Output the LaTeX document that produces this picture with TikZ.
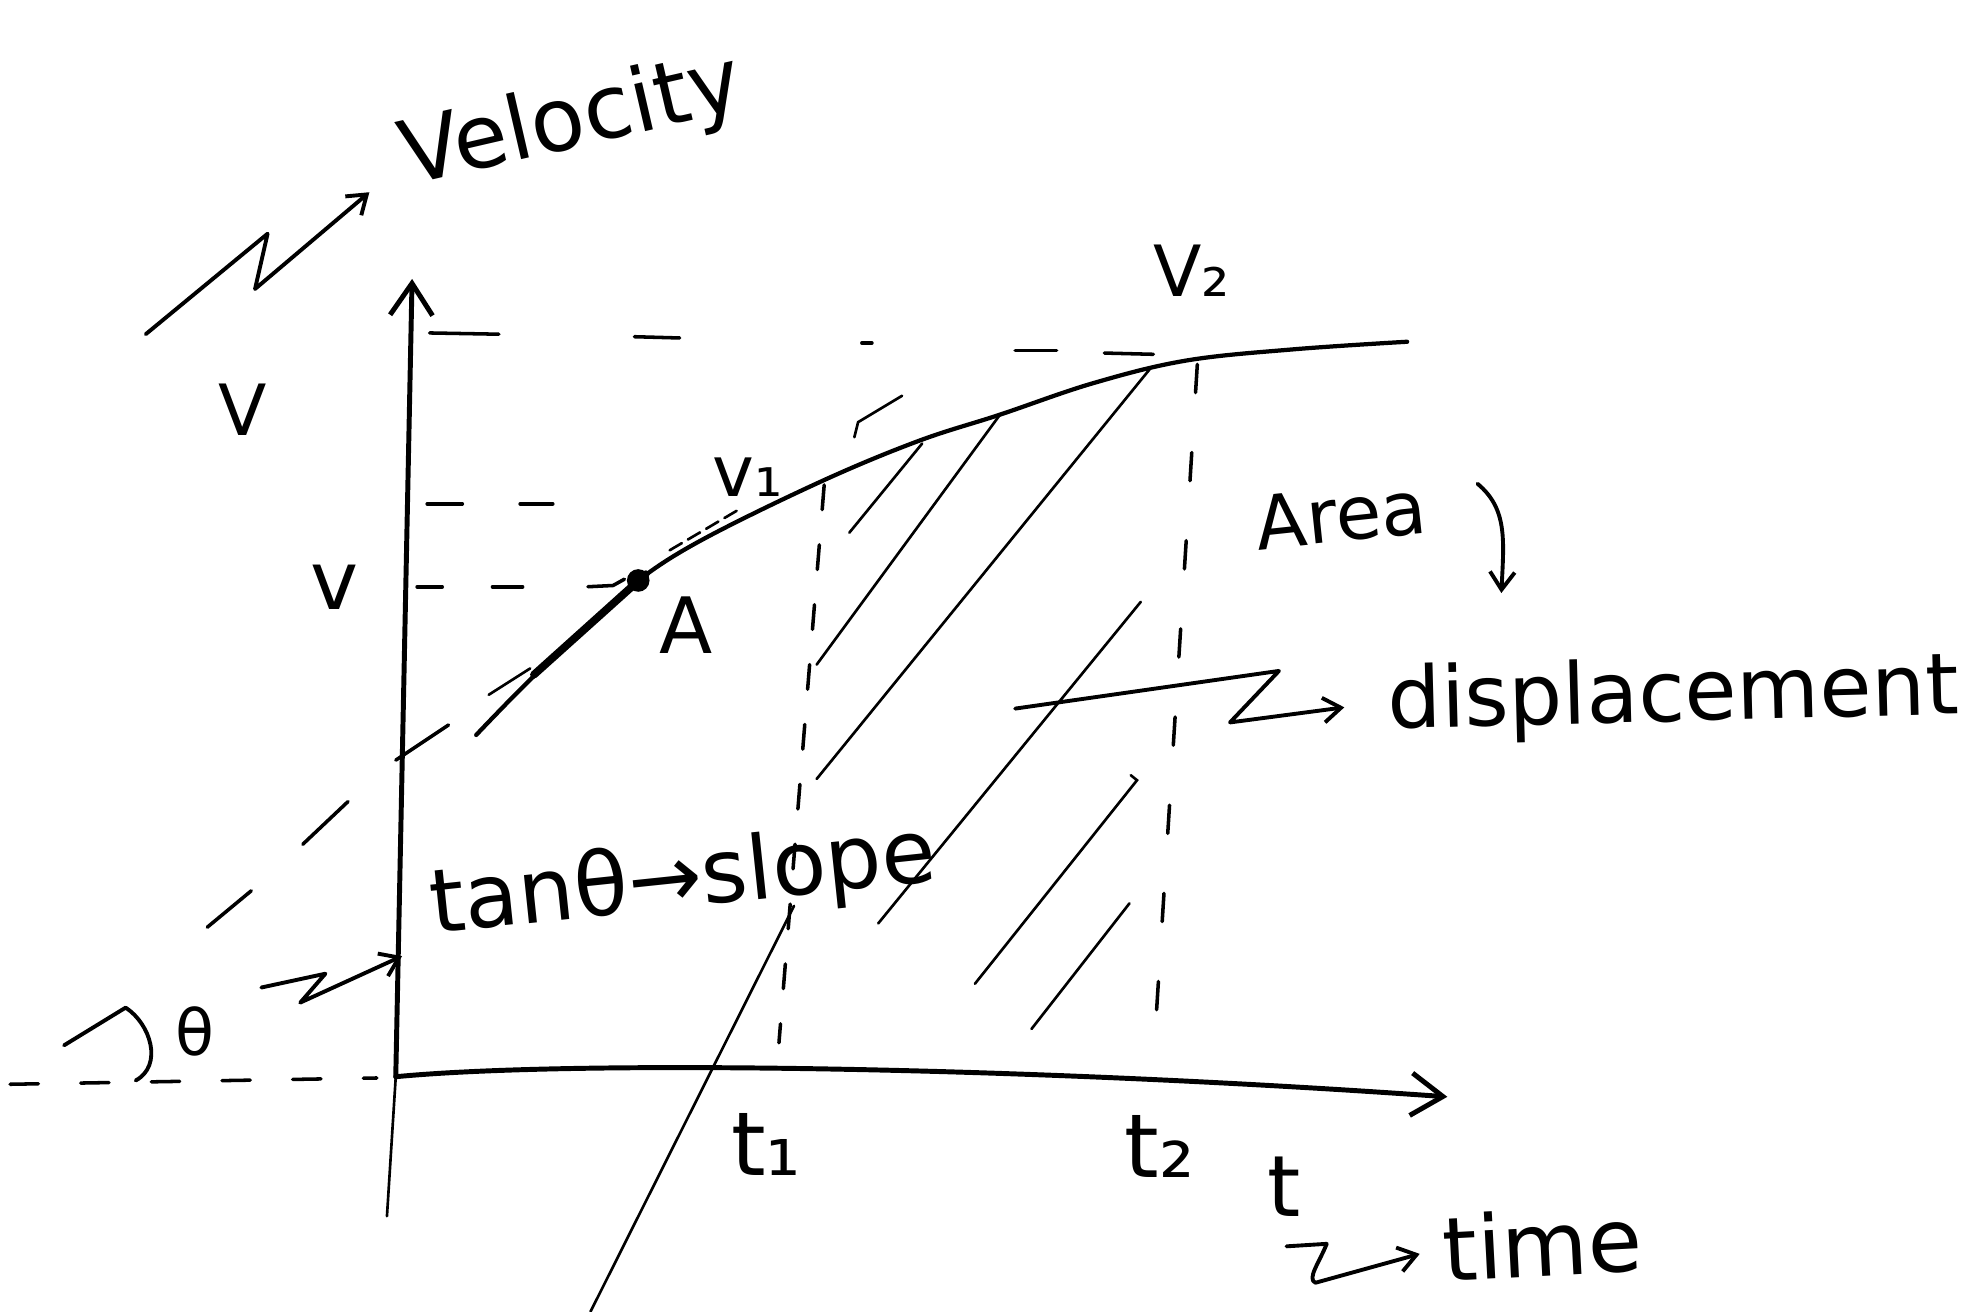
\documentclass[tikz,border=0pt]{standalone}
\usepackage{fontspec}
\setmainfont{DejaVu Sans}
\usetikzlibrary{arrows.meta}
\begin{document}
\begin{tikzpicture}[x=0.0125cm,y=-0.0125cm,
  axisline/.style={line width=1.4pt, line cap=round, line join=round},
  curveline/.style={line width=1.2pt, line cap=round},
  hatch/.style={line width=0.75pt, line cap=round},
  guide/.style={line width=1pt, line cap=round},
  lbl/.style={anchor=base west, inner sep=0pt, outer sep=0pt},
  fs/.style={font=\fontsize{#1}{#1}\selectfont},
  barb/.style={-{Straight Barb[length=5pt,width=7pt]}},
  bigbarb/.style={-{Straight Barb[length=9pt,width=12pt]}},
  zig/.style={line width=1.1pt, line cap=round, line join=round},
]
\useasboundingbox[fill=white] (0,0) rectangle (1568,1044);

% key points
\coordinate (O) at (315,857);
\coordinate (ytop) at (328,222);
\coordinate (ybot) at (308,968);
\coordinate (xend) at (1152,873);
\coordinate (A) at (508,462);
\coordinate (V2pt) at (944,287);

% axes
\draw[axisline,bigbarb] (O) -- (ytop);
\draw[hatch] (O) -- (ybot);
\draw[axisline,bigbarb] (O) .. controls (450,844) and (800,848) .. (xend);

% curve
\draw[curveline] plot[smooth, tension=0.6] coordinates {(379,585) (422,541) (470,497) (A) (560,429) (654,383) (731,351) (796,330) (870,305) (V2pt) (1030,278) (1120,272)};
% bold tangent near A
\draw[line width=2.2pt, line cap=round] (425,537) -- (514,457);
\fill (A) circle (9);
\draw[hatch] (389,553) -- (422,532);
\draw[hatch, dash pattern=on 4pt off 2pt] (533,438) -- (589,405);

% tangent dashes (lower left) and angle mark
\draw[guide] (165,738) -- (200,709);
\draw[guide] (241,672) -- (277,638);
\draw[guide] (315,605) -- (357,577);
\draw[zig] (51,832) -- (100,802) .. controls (120,815) and (130,848) .. (108,860);
\draw[guide, dash pattern=on 8pt off 12pt] (8,863) -- (300,858);

% horizontal guides
\draw[guide] (342,265) -- (397,266);
\draw[guide] (505,268) -- (541,269);
\draw[guide] (686,273) -- (694,273);
\draw[guide] (808,279) -- (841,279);
\draw[guide] (879,281) -- (918,282);

\draw[guide] (340,401) -- (368,401);
\draw[guide] (414,401) -- (440,401);

\draw[guide] (332,467) -- (352,467);
\draw[guide] (392,467) -- (416,467);
\draw[guide] (468,467) -- (488,466) -- (497,461);

% vertical guides
\draw[guide, dash pattern=on 7pt off 10pt] (656,386) -- (620,830);
\draw[guide, dash pattern=on 8pt off 17pt] (953,290) -- (918,845);

% hatch lines
\draw[hatch] (680,348) -- (683,336) -- (718,315);
\draw[hatch] (734,353) -- (676,424);
\draw[hatch] (796,330) -- (650,529);
\draw[hatch] (915,294) -- (650,620);
\draw[hatch] (908,479) -- (699,735);
\draw[hatch] (900,617) -- (905,621) -- (776,783);
\draw[hatch] (899,719) -- (821,819);
\draw[hatch] (632,721) -- (470,1044);

% labels
\node[lbl,fs=25pt,rotate=13] (velocity) at (325,148) {Velocity};
\node[lbl,fs=20pt] (Vbig) at (174,347) {V};
\node[lbl,fs=23pt] (vsmall) at (247,485) {v};
\node[lbl,fs=20pt] (vone) at (567,395) {v₁};
\node[lbl,fs=20pt] (vtwo) at (918,236) {V₂};
\node[lbl,fs=22pt] (Alabel) at (525,520) {A};
\node[lbl,fs=21pt,rotate=6] (area) at (1002,438) {Area};
\node[lbl,fs=24pt,rotate=1.5] (disp) at (1105,580) {displacement};
\node[lbl,fs=25pt,rotate=6] (tan) at (345,743) {tanθ→slope};
\node[lbl,fs=18pt] (theta) at (140,840) {θ};
\node[lbl,fs=25pt] (tone) at (582,936) {t₁};
\node[lbl,fs=25pt] (ttwo) at (895,937) {t₂};
\node[lbl,fs=24pt] (tlab) at (1009,968) {t};
\node[lbl,fs=25pt,rotate=3] (time) at (1150,1020) {time};

% zigzag arrows
\coordinate (zv0) at (116,266);
\coordinate (zv1) at (294,153);
\draw[zig,barb] (zv0) -- (213,186) -- (203,230) -- (zv1);

\coordinate (zt0) at (208,786);
\coordinate (zt1) at (320,761);
\draw[zig,barb] (zt0) -- (259,775) -- (239,798) -- (zt1);

\coordinate (zd0) at (808,564);
\coordinate (zd1) at (1070,563);
\draw[zig,barb] (zd0) -- (1018,534) -- (979,575) -- (zd1);

\coordinate (za0) at (1176,385);
\coordinate (za1) at (1195,472);
\draw[zig,barb] (za0) .. controls (1200,405) and (1197,430) .. (za1);

\coordinate (zm0) at (1024,992);
\coordinate (zm1) at (1130,998);
\draw[zig,barb] (zm0) -- (1056,990) .. controls (1050,1005) and (1040,1018) .. (1047,1021) -- (zm1);
\end{tikzpicture}
\end{document}
